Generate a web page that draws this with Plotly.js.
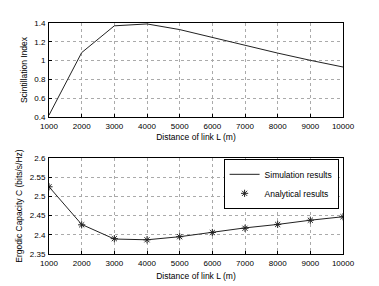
<!DOCTYPE html>
<html><head><meta charset="utf-8">
<script src="https://cdn.plot.ly/plotly-3.0.1.min.js"></script>
<style>html,body{margin:0;padding:0;background:#fff}#c{width:379px;height:286px}</style>
</head><body><div id="c"></div>
<script>
const distance = [1000,2000,3000,4000,5000,6000,7000,8000,9000,10000];
const scintillation = [0.42,1.085,1.37,1.39,1.33,1.245,1.16,1.08,1.003,0.932];
const simulation = [2.525,2.427,2.389,2.387,2.395,2.406,2.418,2.427,2.438,2.447];
const analytical = [2.525,2.426,2.390,2.387,2.395,2.406,2.417,2.427,2.438,2.447];
const xTicks = [1000,2000,3000,4000,5000,6000,7000,8000,9000,10000];
const xTickText = ['1000','2000','3000','4000','5000','6000','7000','8000','9000','10000'];
const topTicks = [0.4,0.6,0.8,1,1.2,1.4];
const topTickText = ['0.4','0.6','0.8','1','1.2','1.4'];
const botTicks = [2.35,2.4,2.45,2.5,2.55,2.6];
const botTickText = ['2.35','2.4','2.45','2.5','2.55','2.6'];

const font = {family:'Liberation Sans, Arial, sans-serif', size:8.5, color:'#000'};
const tickFont = {family:'Liberation Sans, Arial, sans-serif', size:8, color:'#000'};
const axBase = {showline:true, mirror:true, linecolor:'#000', linewidth:1,
  ticks:'inside', ticklen:3, tickcolor:'#000', showgrid:true, gridcolor:'#aaa',
  griddash:'dot', gridwidth:1, zeroline:false, tickfont:tickFont};

const traces = [
  {x:distance, y:scintillation, xaxis:'x', yaxis:'y', mode:'lines', line:{color:'#222', width:1}, showlegend:false},
  {x:distance, y:simulation, xaxis:'x2', yaxis:'y2', mode:'lines', line:{color:'#222', width:1}, name:'Simulation results'},
  {x:distance, y:analytical, xaxis:'x2', yaxis:'y2', mode:'markers', marker:{symbol:'asterisk-open', size:6, color:'#222', line:{width:1, color:'#222'}}, name:'Analytical results'}
];

const layout = {
  width:379, height:286, paper_bgcolor:'#fff', plot_bgcolor:'#fff', font:font,
  margin:{l:49, r:36, t:23, b:32},
  xaxis:Object.assign({}, axBase, {domain:[0,1], anchor:'y', range:[1000,10000], tickvals:xTicks, ticktext:xTickText,
    ticklabelstandoff:1, title:{text:'Distance of link L (m)', font:font, standoff:4}}),
  yaxis:Object.assign({}, axBase, {domain:[0.593,1], anchor:'x', range:[0.4,1.4], tickvals:topTicks, ticktext:topTickText,
    ticklabelstandoff:1, title:{text:'Scintillation Index', font:font, standoff:5}}),
  xaxis2:Object.assign({}, axBase, {domain:[0,1], anchor:'y2', range:[1000,10000], tickvals:xTicks, ticktext:xTickText,
    ticklabelstandoff:1, title:{text:'Distance of link L (m)', font:font, standoff:6}}),
  yaxis2:Object.assign({}, axBase, {domain:[0,0.4156], anchor:'x2', range:[2.35,2.6], tickvals:botTicks, ticktext:botTickText,
    ticklabelstandoff:1, title:{text:'Ergodic Capacity C (bits/s/Hz)', font:font, standoff:5}}),
  legend:{x:0.985, xanchor:'right', y:0.412, yanchor:'top', bgcolor:'#fff', bordercolor:'#000', borderwidth:1,
    font:font, tracegroupgap:0, itemwidth:30}
};
Plotly.newPlot('c', traces, layout, {staticPlot:true, displayModeBar:false});
</script></body></html>
